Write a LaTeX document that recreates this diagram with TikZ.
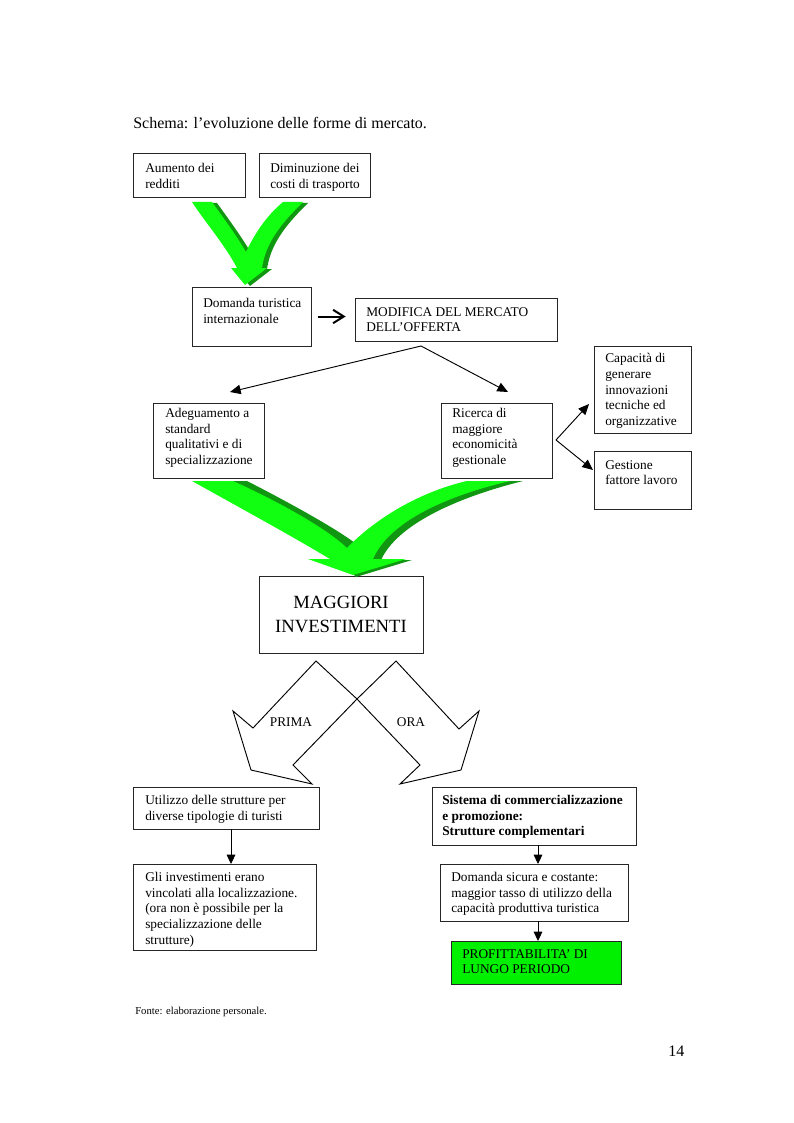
\documentclass[tikz,border=0pt]{standalone}
\usepackage{fontspec}
\setmainfont{Liberation Serif}
\usetikzlibrary{arrows.meta}
\definecolor{lgreen}{RGB}{17,255,17}
\definecolor{dgreen}{RGB}{17,150,17}
\definecolor{boxgreen}{RGB}{0,240,0}
\newcommand\mkbox[6][]{\node[bx,#1, minimum width={(#4-#2)*0.75pt}, minimum height={(#6-#3)*0.75pt}] (#5) at (#2,#3) {};}
\begin{document}
\begin{tikzpicture}[x=0.75pt,y=-0.75pt,
  bx/.style={draw=black!85, line width=0.7pt, inner sep=0pt, outer sep=0pt, anchor=north west},
  txt/.style={anchor=north west, inner sep=0pt, align=left, font=\fontsize{10}{11.8}\selectfont},
  conn/.style={draw=black, line width=0.7pt},
  tri/.style={conn, -{Triangle[length=7pt,width=6.5pt]}},
  trib/.style={conn, -{Triangle[length=8pt,width=7pt]}},
  fat/.style={draw=black, line width=1.5pt, -{Straight Barb[length=8pt,width=10pt,line width=1.5pt]}},
  outl/.style={draw=black, line width=0.7pt, line join=miter}]
\useasboundingbox (0,0) rectangle (793,1123);

% title
\node[anchor=base west, inner sep=0pt, font=\fontsize{12}{14}\selectfont] (title) at (133,129) {Schema: l’evoluzione delle forme di mercato.};

% boxes
\mkbox{133}{153}{245}{b1}{197}
\mkbox{259}{153}{370}{b2}{197}
\mkbox{192}{287}{311}{b3}{346}
\mkbox{355}{298}{557}{b4}{341}
\mkbox{153}{403}{264}{b5}{478}
\mkbox{441}{403}{552}{b6}{478}
\mkbox{594}{346}{691}{b7}{433}
\mkbox{594}{451}{691}{b8}{509}
\mkbox{259}{576}{423}{b9}{653}
\mkbox{133}{787}{319}{b10}{829}
\mkbox{133}{864}{316}{b11}{950}
\mkbox{432}{787}{636}{b12}{845}
\mkbox{440}{864}{628}{b13}{921}
\mkbox[fill=boxgreen]{451}{941}{621}{b14}{984}

% texts
\node[txt] (t1) at (145,163) {Aumento dei\\redditi};
\node[txt] (t2) at (270,163) {Diminuzione dei\\costi di trasporto};
\node[txt] (t3) at (203,298) {Domanda turistica\\internazionale};
\node[txt] (t4) at (366,307) {MODIFICA DEL MERCATO\\DELL’OFFERTA};
\node[txt] (t5) at (165,408) {Adeguamento a\\standard\\qualitativi e di\\specializzazione};
\node[txt] (t6) at (452,408) {Ricerca di\\maggiore\\economicità\\gestionale};
\node[txt] (t7) at (605,353) {Capacità di\\generare\\innovazioni\\tecniche ed\\organizzative};
\node[txt] (t8) at (605,460) {Gestione\\fattore lavoro};
\node[inner sep=0pt, align=center, font=\fontsize{14}{17.5}\selectfont] (t9) at (b9.center) {MAGGIORI\\INVESTIMENTI};
\node[txt] (t10) at (145,795) {Utilizzo delle strutture per\\diverse tipologie di turisti};
\node[txt] (t11) at (145,872) {Gli investimenti erano\\vincolati alla localizzazione.\\(ora non è possibile per la\\specializzazione delle\\strutture)};
\node[txt, font=\fontsize{10}{11.8}\selectfont\bfseries] (t12) at (442,795) {Sistema di commercializzazione\\e promozione:\\Strutture complementari};
\node[txt] (t13) at (451,872) {Domanda sicura e costante:\\maggior tasso di utilizzo della\\capacità produttiva turistica};
\node[txt] (t14) at (462,949) {PROFITTABILITA’ DI\\LUNGO PERIODO};

% green arrow top
\begin{scope}[shift={(5,1)}]
\fill[dgreen] (192,202) -- (212,202) .. controls (225,220) and (238,238) .. (246,252) .. controls (254,235) and (266,216) .. (283,202) -- (303,202) .. controls (285,220) and (266,240) .. (262,268) -- (267,268) -- (245,285) -- (231,268) -- (237,268) .. controls (225,245) and (205,222) .. (192,202) -- cycle;
\end{scope}
\fill[lgreen] (192,202) -- (212,202) .. controls (225,220) and (238,238) .. (246,252) .. controls (254,235) and (266,216) .. (283,202) -- (303,202) .. controls (285,220) and (266,240) .. (262,268) -- (267,268) -- (245,285) -- (231,268) -- (237,268) .. controls (225,245) and (205,222) .. (192,202) -- cycle;

% green arrow middle
\fill[dgreen] (233,481) -- (247,481) .. controls (290,503) and (335,528) .. (355,543) -- (470,481) -- (523,481) .. controls (455,498) and (397,525) .. (381,560) -- (412,560) -- (356,577) -- (340,560) -- cycle;
\fill[lgreen] (192,481) -- (233,481) .. controls (275,500) and (325,527) .. (347,548) .. controls (372,522) and (415,493) .. (467,481) -- (510,481) .. controls (450,495) and (390,520) .. (373,559) -- (406,559) -- (353,575) -- (308,559) -- (330,559) .. controls (290,535) and (235,505) .. (192,481) -- cycle;

% PRIMA / ORA outline arrows
\draw[outl] (316,661) -- (253,728) -- (233,711) -- (251,770) -- (312,784) -- (293,765) -- (357,699) -- cycle;
\draw[outl] (396,661) -- (357,699) -- (420,765) -- (400,784) -- (461,770) -- (479,711) -- (459,729) -- cycle;
\node[font=\fontsize{10}{12}\selectfont, inner sep=0pt] (prima) at (291,722) {PRIMA};
\node[font=\fontsize{10}{12}\selectfont, inner sep=0pt] (ora) at (411,722) {ORA};

% connectors
\draw[fat] ([xshift=5pt]b3.east) -- ++(21pt,0);
\coordinate (m) at (421,346);
\coordinate (e5) at (230,392);
\coordinate (e6) at (508,392);
\draw[trib] (m) -- (e5);
\draw[trib] (m) -- (e6);
\coordinate (r) at (556,440);
\coordinate (e7) at (589,404);
\coordinate (e8) at (593,470);
\draw[trib] (r) -- (e7);
\draw[trib] (r) -- (e8);
\coordinate (c1) at (231,0);
\coordinate (c2) at (538,0);
\draw[tri] (b10.south -| c1) -- (b11.north -| c1);
\draw[tri] (b12.south -| c2) -- (b13.north -| c2);
\draw[tri] (b13.south -| c2) -- (b14.north -| c2);

% footer
\node[anchor=base west, inner sep=0pt, font=\fontsize{8}{10}\selectfont] (fonte) at (135,1014) {Fonte: elaborazione personale.};
\node[anchor=base west, inner sep=0pt, font=\fontsize{12}{14}\selectfont] (pg) at (668,1056) {14};
\end{tikzpicture}
\end{document}
